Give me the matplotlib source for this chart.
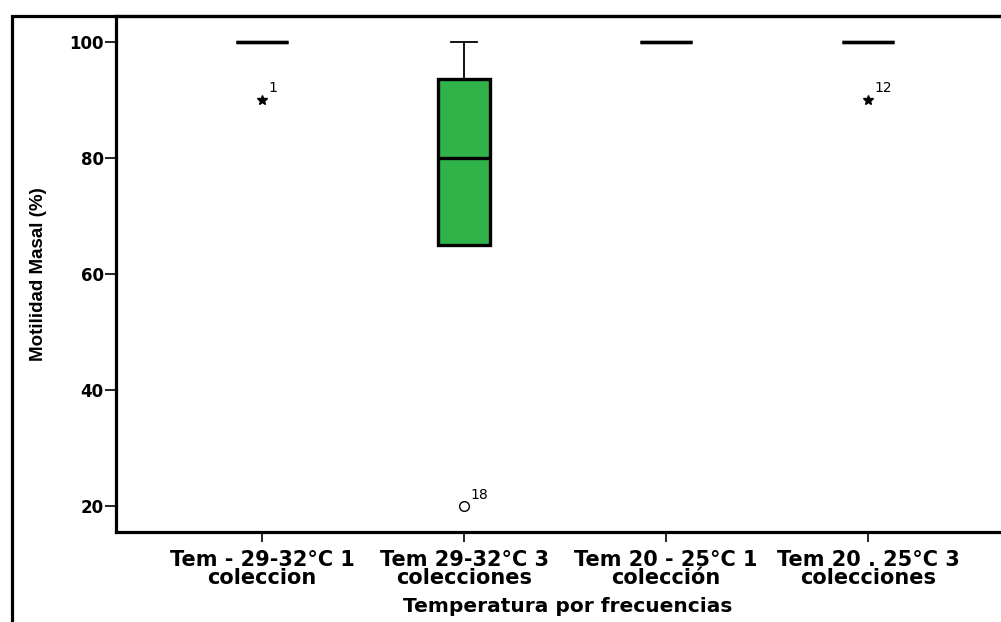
import matplotlib.pyplot as plt
from matplotlib.patches import Rectangle

# categories (x axis)
categorias = ["Tem - 29-32°C 1\ncoleccion",
              "Tem 29-32°C 3\ncolecciones",
              "Tem 20 - 25°C 1\ncolección",
              "Tem 20 . 25°C 3\ncolecciones"]

# box statistics
q1 = [100, 65, 100, 100]
mediana = [100, 80, 100, 100]
q3 = [100, 93.6, 100, 100]
bigote_inf = [100, 65, 100, 100]
bigote_sup = [100, 100, 100, 100]

# outliers: category index (1-based), value, marker, case number
out_cat = [1, 2, 4]
out_val = [90, 20, 90]
out_tipo = ["*", "o", "*"]
out_caso = ["1", "18", "12"]

y_ticks = [20, 40, 60, 80, 100]

verde = "#30b44a"
fuente = "DejaVu Sans"

fig = plt.figure(figsize=(10.01, 6.22), dpi=100)
ax = fig.add_axes([116 / 1001, 1 - 532 / 622, 1 - 116 / 1001, (532 - 15.7) / 622])

stats = []
for i in range(len(categorias)):
    stats.append({"q1": q1[i], "med": mediana[i], "q3": q3[i],
                  "whislo": bigote_inf[i], "whishi": bigote_sup[i],
                  "fliers": []})

ax.bxp(stats, positions=range(1, len(categorias) + 1), widths=0.26,
       showfliers=False, patch_artist=True,
       boxprops=dict(facecolor=verde, edgecolor="black", linewidth=2.4),
       medianprops=dict(color="black", linewidth=2.4),
       whiskerprops=dict(color="black", linewidth=1.3),
       capprops=dict(color="black", linewidth=1.3),
       capwidths=0.13)

for c, v, t, n in zip(out_cat, out_val, out_tipo, out_caso):
    if t == "*":
        ax.plot(c, v, marker="*", color="black", markersize=7, linestyle="none")
    else:
        ax.plot(c, v, marker="o", markerfacecolor="white", markeredgecolor="black",
                markeredgewidth=1.0, markersize=7, linestyle="none")
    ax.annotate(n, (c, v), xytext=(4.5, 3.5), textcoords="offset points",
                ha="left", va="bottom", fontsize=10, family=fuente)

ax.set_xlim(0.277, 4.658)
ax.set_ylim(15.6, 104.5)
ax.set_yticks(y_ticks)
ax.set_yticklabels([str(t) for t in y_ticks], fontsize=12, fontweight="bold", family=fuente)
ax.set_xticks(range(1, len(categorias) + 1))
ax.set_xticklabels(categorias, fontsize=15, fontweight="bold", family=fuente,
                   linespacing=0.85)

ax.tick_params(axis="y", length=8, width=1.2, pad=1)
ax.tick_params(axis="x", length=7, width=1.2, pad=6)

ax.spines["right"].set_visible(False)
for s in ["left", "bottom", "top"]:
    ax.spines[s].set_linewidth(2.3)

ax.set_ylabel("Motilidad Masal (%)", fontsize=13.5, fontweight="bold",
              family="Liberation Sans", labelpad=16)
ax.set_xlabel("Temperatura por frecuencias", fontsize=14.5, fontweight="bold",
              family=fuente, labelpad=7)
ax.xaxis.set_label_coords(0.51, -0.125)

# outer frame of the original picture
fig.add_artist(Rectangle((11.7 / 1001, -0.2), 1.2, 1.2 - 15.7 / 622,
                         transform=fig.transFigure, fill=False,
                         edgecolor="black", linewidth=2.3, clip_on=False))

fig.savefig("out.png", dpi=100)
